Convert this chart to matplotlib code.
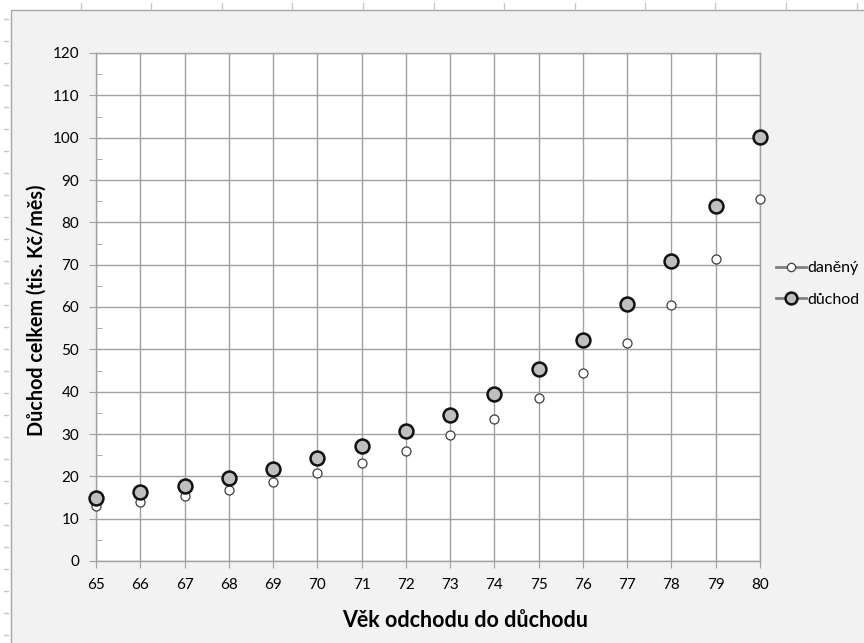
import matplotlib
matplotlib.use("Agg")
import matplotlib.pyplot as plt
from matplotlib.lines import Line2D
from matplotlib.patches import Rectangle

vek = [65, 66, 67, 68, 69, 70, 71, 72, 73, 74, 75, 76, 77, 78, 79, 80]
daneny = [12.9, 14.0, 15.3, 16.8, 18.7, 20.8, 23.1, 26.0, 29.8, 33.6, 38.6, 44.5, 51.6, 60.5, 71.4, 85.5]
duchod = [15.0, 16.2, 17.8, 19.6, 21.7, 24.3, 27.1, 30.6, 34.5, 39.5, 45.3, 52.1, 60.6, 70.8, 83.9, 100.2]
labels = ["daněný", "důchod"]
y_ticks = list(range(0, 121, 10))

plt.rcParams['font.family'] = ['Lato', 'DejaVu Sans']

W, H = 864, 643
fig = plt.figure(figsize=(W / 100, H / 100), dpi=100, facecolor='white')

# chart area background (Excel-like)
bg = Rectangle((11 / W, -0.1), 1.2, (H - 10) / H + 0.1, transform=fig.transFigure,
               facecolor='#f2f2f2', edgecolor='#a6a6a6', linewidth=1.0, zorder=-10)
fig.patches.append(bg)
# spreadsheet cell marks around
for xp in [80.5, 151, 221.5, 292, 362.5, 433.5, 504, 574.5, 645, 715, 786, 857]:
    fig.add_artist(Line2D([xp / W, xp / W], [1 - 3 / H, 1 - 9 / H], transform=fig.transFigure,
                          color='#c8c8c8', lw=1, zorder=-5))
yp = 19.0
while yp < H:
    fig.add_artist(Line2D([4 / W, 8 / W], [1 - yp / H, 1 - yp / H], transform=fig.transFigure,
                          color='#c8c8c8', lw=1, zorder=-5))
    yp += 22.0

left, right, top, bottom = 96, 760, 53, 561
ax = fig.add_axes([left / W, (H - bottom) / H, (right - left) / W, (bottom - top) / H])
ax.set_zorder(2)
ax.set_facecolor('white')
ax.set_xlim(65, 80)
ax.set_ylim(0, 120)
ax.set_xticks(vek)
ax.set_yticks(y_ticks)
ax.set_yticks(list(range(5, 120, 10)), minor=True)
ax.grid(True, which='major', color='#a0a0a0', linewidth=1.0)
ax.set_axisbelow(True)
for s in ax.spines.values():
    s.set_color('#a0a0a0')
    s.set_linewidth(1.0)
ax.tick_params(axis='both', which='major', direction='out', length=5, color='#a0a0a0',
               labelsize=11, labelcolor='#000000', pad=7)
ax.tick_params(axis='y', which='minor', direction='in', length=4, color='#a0a0a0')

ax.plot(vek, daneny, linestyle='none', marker='o', markersize=6.5, markerfacecolor='white',
        markeredgecolor='#404040', markeredgewidth=0.9, clip_on=False, zorder=3)
ax.plot(vek, duchod, linestyle='none', marker='o', markersize=10, markerfacecolor='#bfbfbf',
        markeredgecolor='#111111', markeredgewidth=1.8, clip_on=False, zorder=4)

fig.text(465 / W, 1 - 627 / H, "Věk odchodu do důchodu", fontsize=15.5, fontweight='bold',
         ha='center', va='baseline')
fig.text(37 / W, 1 - 310 / H, "Důchod celkem (tis. Kč/měs)", fontsize=14.2, fontweight='bold',
         ha='center', va='center', rotation=90)

h1 = Line2D([], [], color='#808080', lw=2, marker='o', markersize=6, markerfacecolor='white',
            markeredgecolor='#404040', markeredgewidth=0.9)
h2 = Line2D([], [], color='#808080', lw=2, marker='o', markersize=8.5, markerfacecolor='#bfbfbf',
            markeredgecolor='#111111', markeredgewidth=1.8)
fig.legend([h1, h2], labels, loc='center left', bbox_to_anchor=(776 / W, 1 - 284 / H),
           frameon=False, fontsize=11.5, handlelength=1.9, handletextpad=0.08, labelspacing=1.1,
           borderaxespad=0, borderpad=0)

fig.savefig("out.png", dpi=100, facecolor=fig.get_facecolor())
